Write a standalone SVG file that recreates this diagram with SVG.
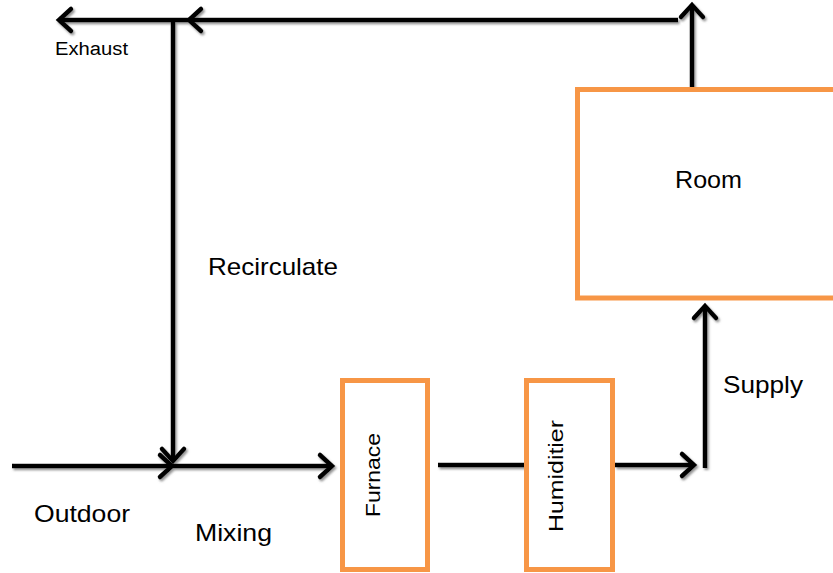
<svg xmlns="http://www.w3.org/2000/svg" width="833" height="573" viewBox="0 0 833 573">
<defs>
<marker id="arr" markerUnits="userSpaceOnUse" markerWidth="30" markerHeight="30" viewBox="-16 -15 20 30" refX="0" refY="0" orient="auto">
<path d="M-12,-11 L0,0 L-12,11" fill="none" stroke="#000" stroke-width="4.5" stroke-linecap="round" stroke-linejoin="miter"/>
</marker>
<filter id="sh" x="-20%" y="-20%" width="140%" height="140%">
<feDropShadow dx="1.5" dy="2" stdDeviation="0.8" flood-color="#777" flood-opacity="0.8"/>
</filter>
</defs>
<style>
.box{fill:#fff;stroke:#F79646;stroke-width:5}
.ln{fill:none;stroke:#000;stroke-width:4.5}
.ar{marker-end:url(#arr)}
.t{font-family:"Liberation Sans",Arial,sans-serif;fill:#000}
.lb{font-size:24px}
</style>
<rect width="833" height="573" fill="#fff"/>
<g id="connectors" filter="url(#sh)">
<path class="ln ar" d="M678,20 L189,20"/>
<path class="ln ar" d="M189,20 L59,20"/>
<path class="ln ar" d="M173,20 L173,461"/>
<path class="ln ar" d="M692,88 L692,5"/>
<path class="ln ar" d="M12,466 L172,466"/>
<path class="ln ar" d="M172,466 L332,466"/>
<path class="ln" d="M438,465 L525,465"/>
<path class="ln ar" d="M615,465 L694,465"/>
<path class="ln ar" d="M705,468 L705,306"/>
</g>
<g id="room">
<rect class="box" x="577.5" y="89.5" width="270" height="208.5"/>
<text class="t lb" x="675" y="188" textLength="67" lengthAdjust="spacingAndGlyphs">Room</text>
</g>
<g id="furnace">
<rect class="box" x="342.5" y="380.5" width="85" height="189"/>
<text class="t" font-size="21" transform="translate(380,517) rotate(-90)" textLength="84" lengthAdjust="spacingAndGlyphs">Furnace</text>
</g>
<g id="humidifier">
<rect class="box" x="526.5" y="380.5" width="86" height="189"/>
<text class="t" font-size="21" transform="translate(563,532) rotate(-90)" textLength="112" lengthAdjust="spacingAndGlyphs">Humiditier</text>
</g>
<g id="labels">
<text class="t" font-size="18" x="55" y="55" textLength="73" lengthAdjust="spacingAndGlyphs">Exhaust</text>
<text class="t lb" x="208" y="275" textLength="130" lengthAdjust="spacingAndGlyphs">Recirculate</text>
<text class="t lb" x="723" y="393" textLength="80" lengthAdjust="spacingAndGlyphs">Supply</text>
<text class="t lb" x="34" y="522" textLength="96" lengthAdjust="spacingAndGlyphs">Outdoor</text>
<text class="t lb" x="195" y="541" textLength="77" lengthAdjust="spacingAndGlyphs">Mixing</text>
</g>
</svg>
